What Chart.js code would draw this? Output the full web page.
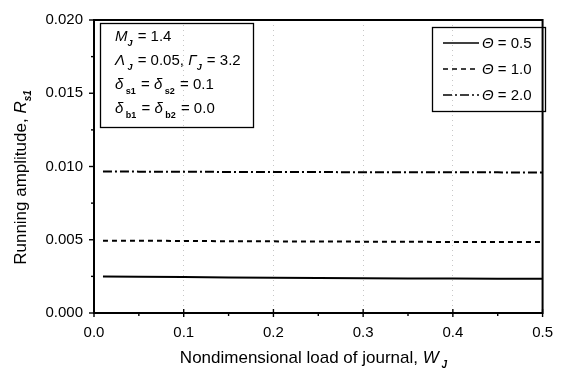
<!DOCTYPE html>
<html>
<head>
<meta charset="utf-8">
<script src="https://cdn.jsdelivr.net/npm/chart.js@4.4.1/dist/chart.umd.min.js"></script>
<style>
    html, body { margin: 0; padding: 0; background: #fff; }
    #wrap { width: 564px; height: 371px; }
</style>
</head>
<body>
<div id="wrap"><canvas id="ampChart" width="564" height="371"></canvas></div>
<script>
// Data
const loadW = [0.01, 0.05, 0.1, 0.15, 0.2, 0.25, 0.3, 0.35, 0.4, 0.45, 0.5];
const ampTheta05 = [0.00249, 0.00248, 0.00246, 0.00243, 0.00241, 0.00239, 0.00237, 0.00236, 0.00235, 0.00234, 0.00233];
const ampTheta10 = [0.00494, 0.00493, 0.00492, 0.00490, 0.00489, 0.00488, 0.00487, 0.00486, 0.00485, 0.00485, 0.00484];
const ampTheta20 = [0.00966, 0.00965, 0.00964, 0.00963, 0.00962, 0.00962, 0.00961, 0.00961, 0.00960, 0.00960, 0.00959];
const thetaLabels = ["0.5", "1.0", "2.0"];
const xTicks = [0, 0.1, 0.2, 0.3, 0.4, 0.5];
const yTicks = [0, 0.005, 0.01, 0.015, 0.02];

const FONT = "'Liberation Sans', Arial, sans-serif";
const INK = "#000";
const dashes = [[], [5, 4], [9, 3, 2, 3]];

function toPoints(ys) {
    return loadW.map((x, i) => ({ x: x, y: ys[i] }));
}

// draw a line of mixed text: [{t, it, sub}]
function richText(ctx, parts, x, y, size) {
    let cx = x;
    parts.forEach((p) => {
        const fs = p.sub ? Math.round(size * 0.6) : size;
        ctx.font = (p.it ? "italic " : "") + (p.sub ? "bold " : "") + fs + "px " + FONT;
        const dy = p.sub ? size * 0.3 : 0;
        ctx.fillText(p.t, cx, y + dy);
        cx += ctx.measureText(p.t).width + (p.sub ? 1 : 0);
    });
    return cx - x;
}

function richWidth(ctx, parts, size) {
    let w = 0;
    parts.forEach((p) => {
        const fs = p.sub ? Math.round(size * 0.6) : size;
        ctx.font = (p.it ? "italic " : "") + (p.sub ? "bold " : "") + fs + "px " + FONT;
        w += ctx.measureText(p.t).width + (p.sub ? 1 : 0);
    });
    return w;
}

const infoLines = [
    [{ t: "M", it: 1 }, { t: "J", it: 1, sub: 1 }, { t: " = 1.4" }],
    [{ t: "Λ", it: 1 }, { t: " J", it: 1, sub: 1 }, { t: " = 0.05, " }, { t: "Γ", it: 1 }, { t: "J", it: 1, sub: 1 }, { t: " = 3.2" }],
    [{ t: "δ", it: 1 }, { t: " s1", sub: 1 }, { t: " = " }, { t: "δ", it: 1 }, { t: " s2", sub: 1 }, { t: " = 0.1" }],
    [{ t: "δ", it: 1 }, { t: " b1", sub: 1 }, { t: " = " }, { t: "δ", it: 1 }, { t: " b2", sub: 1 }, { t: " = 0.0" }],
];

const decorPlugin = {
    id: "decor",
    afterDatasetsDraw(chart) {
        const ctx = chart.ctx;
        const a = chart.chartArea;
        const xs = chart.scales.x;
        const ys = chart.scales.y;
        ctx.save();
        ctx.strokeStyle = INK;
        ctx.fillStyle = INK;
        ctx.setLineDash([]);

        // frame
        ctx.lineWidth = 2;
        ctx.strokeRect(a.left, a.top, a.right - a.left, a.bottom - a.top);

        // ticks: majors cross the axis, minors outside
        ctx.lineWidth = 1.4;
        for (let v = 0; v <= 0.5001; v += 0.05) {
            const px = xs.getPixelForValue(v);
            const major = Math.abs(v * 10 - Math.round(v * 10)) < 1e-6;
            ctx.beginPath();
            ctx.moveTo(px, a.bottom + (major ? 4 : 3));
            ctx.lineTo(px, a.bottom - (major ? 4 : 0));
            ctx.stroke();
        }
        for (let v = 0; v <= 0.02001; v += 0.0025) {
            const py = ys.getPixelForValue(v);
            const major = Math.abs(v * 200 - Math.round(v * 200)) < 1e-6;
            ctx.beginPath();
            ctx.moveTo(a.left - (major ? 5 : 3), py);
            ctx.lineTo(a.left, py);
            ctx.stroke();
        }

        // parameter box
        ctx.lineWidth = 1.3;
        ctx.strokeRect(100.5, 23.5, 153, 104);
        ctx.textBaseline = "alphabetic";
        ctx.textAlign = "left";
        const baselines = [41, 65, 89, 113];
        infoLines.forEach((ln, i) => richText(ctx, ln, 115, baselines[i], 15));

        // legend box
        ctx.strokeRect(432.5, 27.5, 113, 84);
        chart.data.datasets.forEach((ds, i) => {
            const ly = 43 + i * 26;
            ctx.lineWidth = 1.6;
            ctx.setLineDash(dashes[i]);
            ctx.beginPath();
            ctx.moveTo(443, ly);
            ctx.lineTo(479, ly);
            ctx.stroke();
            ctx.setLineDash([]);
            richText(ctx, [{ t: "Θ", it: 1 }, { t: " = " + thetaLabels[i] }], 482, ly + 5, 15);
        });

        // x title
        const xt = [{ t: "Nondimensional load of journal, " }, { t: "W", it: 1 }, { t: " J", it: 1, sub: 1 }];
        const xw = richWidth(ctx, xt, 17);
        richText(ctx, xt, 314 - xw / 2, 363, 17);

        // y title
        const yt = [{ t: "Running amplitude, " }, { t: "R", it: 1 }, { t: "s1", it: 1, sub: 1 }];
        const yw = richWidth(ctx, yt, 17);
        ctx.translate(26, 177);
        ctx.rotate(-Math.PI / 2);
        richText(ctx, yt, -yw / 2, 0, 17);
        ctx.restore();
    },
};

const ctxAmp = document.getElementById("ampChart");
new Chart(ctxAmp, {
    type: "line",
    data: {
        datasets: [ampTheta05, ampTheta10, ampTheta20].map((arr, i) => ({
            label: "Θ = " + thetaLabels[i],
            data: toPoints(arr),
            borderColor: INK,
            borderWidth: 2,
            borderDash: dashes[i],
            pointRadius: 0,
            tension: 0,
            fill: false,
        })),
    },
    options: {
        responsive: false,
        animation: false,
        devicePixelRatio: 1,
        layout: { padding: { top: 20, right: 17, left: 0, bottom: 0 } },
        plugins: {
            legend: { display: false },
            tooltip: { enabled: false },
        },
        scales: {
            x: {
                type: "linear",
                min: 0,
                max: 0.5,
                afterFit: (s) => { s.height = 58; },
                afterBuildTicks: (s) => { s.ticks = xTicks.map((v) => ({ value: v })); },
                ticks: {
                    color: INK,
                    padding: 11,
                    font: { family: FONT, size: 15 },
                    callback: (v) => Number(v).toFixed(1),
                },
                grid: {
                    drawTicks: false,
                    lineWidth: 1,
                    color: (c) => (c.tick && c.tick.value > 0.05 && c.tick.value < 0.45 ? "rgba(0,0,0,0.22)" : "rgba(0,0,0,0)"),
                },
                border: { display: false, dash: [1, 4] },
            },
            y: {
                type: "linear",
                min: 0,
                max: 0.02,
                afterFit: (s) => { s.width = 94; },
                afterBuildTicks: (s) => { s.ticks = yTicks.map((v) => ({ value: v })); },
                ticks: {
                    color: INK,
                    padding: 11,
                    font: { family: FONT, size: 15 },
                    callback: (v) => Number(v).toFixed(3),
                },
                grid: { display: false, drawTicks: false },
                border: { display: false },
            },
        },
    },
    plugins: [decorPlugin],
});
</script>
</body>
</html>
